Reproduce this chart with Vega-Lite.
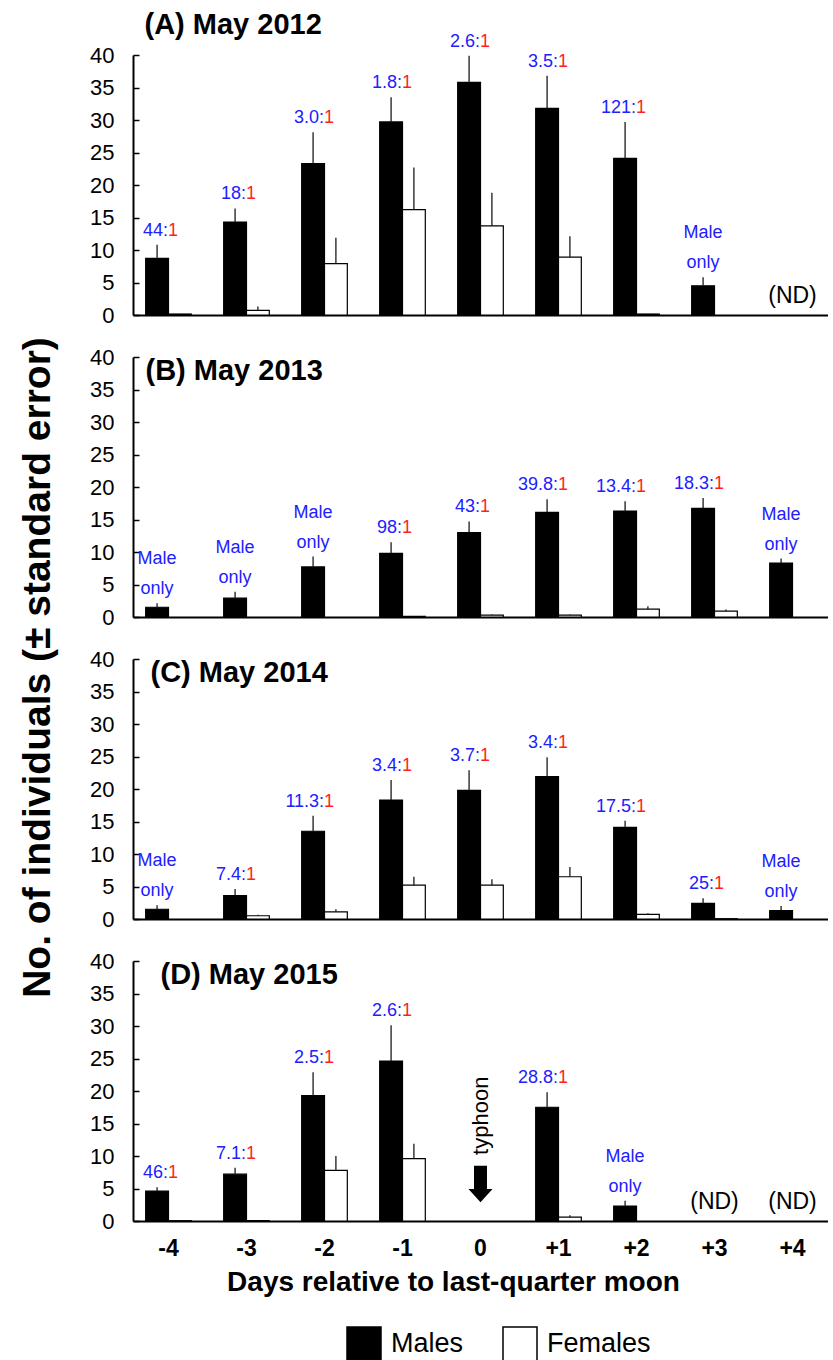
{
  "$schema": "https://vega.github.io/schema/vega-lite/v6.json",
  "bounds": "flush",
  "spacing": 42,
  "padding": {"left": 17, "top": 11, "right": 0, "bottom": 0},
  "datasets": {
    "bars": [
      {"panel": "A", "day": "-4", "sex": "Males", "v": 8.7, "hi": 10.8},
      {"panel": "A", "day": "-4", "sex": "Females", "v": 0.15, "hi": null},
      {"panel": "A", "day": "-3", "sex": "Males", "v": 14.3, "hi": 16.4},
      {"panel": "A", "day": "-3", "sex": "Females", "v": 0.7, "hi": 1.3},
      {"panel": "A", "day": "-2", "sex": "Males", "v": 23.3, "hi": 28.1},
      {"panel": "A", "day": "-2", "sex": "Females", "v": 7.9, "hi": 11.9},
      {"panel": "A", "day": "-1", "sex": "Males", "v": 29.7, "hi": 33.5},
      {"panel": "A", "day": "-1", "sex": "Females", "v": 16.2, "hi": 22.7},
      {"panel": "A", "day": "0", "sex": "Males", "v": 35.8, "hi": 39.9},
      {"panel": "A", "day": "0", "sex": "Females", "v": 13.7, "hi": 18.8},
      {"panel": "A", "day": "+1", "sex": "Males", "v": 31.8, "hi": 36.8},
      {"panel": "A", "day": "+1", "sex": "Females", "v": 8.9, "hi": 12.1},
      {"panel": "A", "day": "+2", "sex": "Males", "v": 24.1, "hi": 29.7},
      {"panel": "A", "day": "+2", "sex": "Females", "v": 0.15, "hi": null},
      {"panel": "A", "day": "+3", "sex": "Males", "v": 4.5, "hi": 5.8},
      {"panel": "B", "day": "-4", "sex": "Males", "v": 1.5, "hi": 2.1},
      {"panel": "B", "day": "-3", "sex": "Males", "v": 2.9, "hi": 3.9},
      {"panel": "B", "day": "-2", "sex": "Males", "v": 7.7, "hi": 9.3},
      {"panel": "B", "day": "-1", "sex": "Males", "v": 9.8, "hi": 11.5},
      {"panel": "B", "day": "-1", "sex": "Females", "v": 0.1, "hi": null},
      {"panel": "B", "day": "0", "sex": "Males", "v": 13.0, "hi": 14.7},
      {"panel": "B", "day": "0", "sex": "Females", "v": 0.3, "hi": 0.4},
      {"panel": "B", "day": "+1", "sex": "Males", "v": 16.1, "hi": 18.1},
      {"panel": "B", "day": "+1", "sex": "Females", "v": 0.3, "hi": 0.4},
      {"panel": "B", "day": "+2", "sex": "Males", "v": 16.3, "hi": 17.8},
      {"panel": "B", "day": "+2", "sex": "Females", "v": 1.2, "hi": 1.65},
      {"panel": "B", "day": "+3", "sex": "Males", "v": 16.7, "hi": 18.3},
      {"panel": "B", "day": "+3", "sex": "Females", "v": 0.9, "hi": 1.15},
      {"panel": "B", "day": "+4", "sex": "Males", "v": 8.3, "hi": 9.0},
      {"panel": "C", "day": "-4", "sex": "Males", "v": 1.5, "hi": 2.1},
      {"panel": "C", "day": "-3", "sex": "Males", "v": 3.6, "hi": 4.6},
      {"panel": "C", "day": "-3", "sex": "Females", "v": 0.5, "hi": 0.65},
      {"panel": "C", "day": "-2", "sex": "Males", "v": 13.5, "hi": 15.9},
      {"panel": "C", "day": "-2", "sex": "Females", "v": 1.1, "hi": 1.5},
      {"panel": "C", "day": "-1", "sex": "Males", "v": 18.3, "hi": 21.4},
      {"panel": "C", "day": "-1", "sex": "Females", "v": 5.2, "hi": 6.5},
      {"panel": "C", "day": "0", "sex": "Males", "v": 19.8, "hi": 22.9},
      {"panel": "C", "day": "0", "sex": "Females", "v": 5.2, "hi": 6.1},
      {"panel": "C", "day": "+1", "sex": "Males", "v": 21.9, "hi": 24.9},
      {"panel": "C", "day": "+1", "sex": "Females", "v": 6.5, "hi": 8.0},
      {"panel": "C", "day": "+2", "sex": "Males", "v": 14.1, "hi": 15.1},
      {"panel": "C", "day": "+2", "sex": "Females", "v": 0.7, "hi": 0.9},
      {"panel": "C", "day": "+3", "sex": "Males", "v": 2.4, "hi": 3.2},
      {"panel": "C", "day": "+3", "sex": "Females", "v": 0.05, "hi": null},
      {"panel": "C", "day": "+4", "sex": "Males", "v": 1.3, "hi": 2.0},
      {"panel": "D", "day": "-4", "sex": "Males", "v": 4.6, "hi": 5.2},
      {"panel": "D", "day": "-4", "sex": "Females", "v": 0.05, "hi": null},
      {"panel": "D", "day": "-3", "sex": "Males", "v": 7.2, "hi": 8.2},
      {"panel": "D", "day": "-3", "sex": "Females", "v": 0.05, "hi": null},
      {"panel": "D", "day": "-2", "sex": "Males", "v": 19.3, "hi": 22.9},
      {"panel": "D", "day": "-2", "sex": "Females", "v": 7.8, "hi": 10.0},
      {"panel": "D", "day": "-1", "sex": "Males", "v": 24.6, "hi": 30.1},
      {"panel": "D", "day": "-1", "sex": "Females", "v": 9.6, "hi": 11.9},
      {"panel": "D", "day": "+1", "sex": "Males", "v": 17.5, "hi": 19.8},
      {"panel": "D", "day": "+1", "sex": "Females", "v": 0.6, "hi": 0.9},
      {"panel": "D", "day": "+2", "sex": "Males", "v": 2.3, "hi": 3.1}
    ],
    "ratios": [
      {"panel": "A", "day": "-4", "sex": "Males", "m": "44:", "f": "1", "hi": 10.8},
      {"panel": "A", "day": "-3", "sex": "Males", "m": "18:", "f": "1", "hi": 16.4},
      {"panel": "A", "day": "-2", "sex": "Males", "m": "3.0:", "f": "1", "hi": 28.1},
      {"panel": "A", "day": "-1", "sex": "Males", "m": "1.8:", "f": "1", "hi": 33.5},
      {"panel": "A", "day": "0", "sex": "Males", "m": "2.6:", "f": "1", "hi": 39.9},
      {"panel": "A", "day": "+1", "sex": "Males", "m": "3.5:", "f": "1", "hi": 36.8},
      {"panel": "A", "day": "+2", "sex": "Males", "m": "121:", "f": "1", "hi": 29.7},
      {"panel": "B", "day": "-1", "sex": "Males", "m": "98:", "f": "1", "hi": 11.5},
      {"panel": "B", "day": "0", "sex": "Males", "m": "43:", "f": "1", "hi": 14.7},
      {"panel": "B", "day": "+1", "sex": "Males", "m": "39.8:", "f": "1", "hi": 18.1},
      {"panel": "B", "day": "+2", "sex": "Males", "m": "13.4:", "f": "1", "hi": 17.8},
      {"panel": "B", "day": "+3", "sex": "Males", "m": "18.3:", "f": "1", "hi": 18.3},
      {"panel": "C", "day": "-3", "sex": "Males", "m": "7.4:", "f": "1", "hi": 4.6},
      {"panel": "C", "day": "-2", "sex": "Males", "m": "11.3:", "f": "1", "hi": 15.9},
      {"panel": "C", "day": "-1", "sex": "Males", "m": "3.4:", "f": "1", "hi": 21.4},
      {"panel": "C", "day": "0", "sex": "Males", "m": "3.7:", "f": "1", "hi": 22.9},
      {"panel": "C", "day": "+1", "sex": "Males", "m": "3.4:", "f": "1", "hi": 24.9},
      {"panel": "C", "day": "+2", "sex": "Males", "m": "17.5:", "f": "1", "hi": 15.1},
      {"panel": "C", "day": "+3", "sex": "Males", "m": "25:", "f": "1", "hi": 3.2},
      {"panel": "D", "day": "-4", "sex": "Males", "m": "46:", "f": "1", "hi": 5.2},
      {"panel": "D", "day": "-3", "sex": "Males", "m": "7.1:", "f": "1", "hi": 8.2},
      {"panel": "D", "day": "-2", "sex": "Males", "m": "2.5:", "f": "1", "hi": 22.9},
      {"panel": "D", "day": "-1", "sex": "Males", "m": "2.6:", "f": "1", "hi": 30.1},
      {"panel": "D", "day": "+1", "sex": "Males", "m": "28.8:", "f": "1", "hi": 19.8}
    ],
    "maleonly": [
      {"panel": "A", "day": "+3", "sex": "Males", "t": "Male\nonly", "hi": 5.8},
      {"panel": "B", "day": "-4", "sex": "Males", "t": "Male\nonly", "hi": 2.1},
      {"panel": "B", "day": "-3", "sex": "Males", "t": "Male\nonly", "hi": 3.9},
      {"panel": "B", "day": "-2", "sex": "Males", "t": "Male\nonly", "hi": 9.3},
      {"panel": "B", "day": "+4", "sex": "Males", "t": "Male\nonly", "hi": 9.0},
      {"panel": "C", "day": "-4", "sex": "Males", "t": "Male\nonly", "hi": 2.1},
      {"panel": "C", "day": "+4", "sex": "Males", "t": "Male\nonly", "hi": 2.0},
      {"panel": "D", "day": "+2", "sex": "Males", "t": "Male\nonly", "hi": 3.1}
    ],
    "nd": [
      {"panel": "A", "day": "+4", "t": "(ND)"},
      {"panel": "D", "day": "+3", "t": "(ND)"},
      {"panel": "D", "day": "+4", "t": "(ND)"}
    ]
  },
  "vconcat": [
    {
      "width": 695, "height": 260,
      "layer": [
        {"data": {"name": "bars"}, "transform": [{"filter": "datum.panel == 'A'"}],
         "mark": {"type": "bar", "stroke": "black", "strokeWidth": 1.2},
         "encoding": {
           "x": {"field": "day", "type": "nominal", "title": null, "sort": ["-4","-3","-2","-1","0","+1","+2","+3","+4"], "scale": {"domain": ["-4","-3","-2","-1","0","+1","+2","+3","+4"], "paddingInner": 0.415, "paddingOuter": 0.1625}, "axis": {"labels": false, "ticks": false, "title": null, "domainWidth": 2}},
           "xOffset": {"field": "sex", "type": "nominal", "sort": ["Males","Females"], "scale": {"domain": ["Males","Females"], "paddingInner": 0, "paddingOuter": 0}},
           "y": {"field": "v", "type": "quantitative", "title": null, "scale": {"domain": [0, 40], "nice": false}, "axis": {"values": [0,5,10,15,20,25,30,35,40], "tickCount": 9, "labelOverlap": false, "labelFlush": false, "labelBound": false, "labelSeparation": 0, "title": null}},
           "color": {"field": "sex", "type": "nominal", "scale": {"domain": ["Males","Females"], "range": ["black","white"]}, "legend": {"orient": "none", "legendX": 213, "legendY": 1271, "direction": "horizontal", "title": null, "symbolType": "square", "symbolSize": 1156, "symbolStrokeColor": "black", "symbolStrokeWidth": 1.5, "labelFontSize": 27, "labelFont": "Liberation Sans", "labelColor": "black", "columnPadding": 36, "labelOffset": 9}}
         }},
        {"data": {"name": "bars"}, "transform": [{"filter": "datum.panel == 'A' && datum.hi != null"}],
         "mark": {"type": "rule", "color": "#1a1a1a", "strokeWidth": 1.3},
         "encoding": {
           "x": {"field": "day", "type": "nominal", "title": null},
           "xOffset": {"field": "sex", "type": "nominal"},
           "y": {"field": "v", "type": "quantitative", "title": null},
           "y2": {"field": "hi"}
         }},
        {"data": {"name": "ratios"}, "transform": [{"filter": "datum.panel == 'A'"}],
         "mark": {"type": "text", "align": "right", "baseline": "bottom", "dx": 11, "dy": -5, "fontSize": 18, "font": "Liberation Sans", "color": "#2020ff"},
         "encoding": {"x": {"field": "day", "type": "nominal", "title": null}, "xOffset": {"field": "sex", "type": "nominal"}, "y": {"field": "hi", "type": "quantitative", "title": null}, "text": {"field": "m"}}},
        {"data": {"name": "ratios"}, "transform": [{"filter": "datum.panel == 'A'"}],
         "mark": {"type": "text", "align": "left", "baseline": "bottom", "dx": 11, "dy": -5, "fontSize": 18, "font": "Liberation Sans", "color": "#ff1f1f"},
         "encoding": {"x": {"field": "day", "type": "nominal", "title": null}, "xOffset": {"field": "sex", "type": "nominal"}, "y": {"field": "hi", "type": "quantitative", "title": null}, "text": {"field": "f"}}},
        {"data": {"name": "maleonly"}, "transform": [{"filter": "datum.panel == 'A'"}],
         "mark": {"type": "text", "baseline": "bottom", "dy": -35, "fontSize": 18, "lineHeight": 30, "lineBreak": "\n", "font": "Liberation Sans", "color": "#2020ff"},
         "encoding": {"x": {"field": "day", "type": "nominal", "title": null}, "xOffset": {"field": "sex", "type": "nominal"}, "y": {"field": "hi", "type": "quantitative", "title": null}, "text": {"field": "t"}}},
        {"data": {"name": "nd"}, "transform": [{"filter": "datum.panel == 'A'"}],
         "mark": {"type": "text", "baseline": "middle", "fontSize": 23, "font": "Liberation Sans", "color": "black"},
         "encoding": {"x": {"field": "day", "type": "nominal", "title": null}, "y": {"datum": 3, "type": "quantitative", "title": null}, "text": {"field": "t"}}},
        {"data": {"values": [{"t": "(A) May 2012"}]},
         "mark": {"type": "text", "align": "left", "baseline": "middle", "dx": -24, "fontSize": 29, "fontWeight": "bold", "font": "Liberation Sans", "color": "black"},
         "encoding": {"x": {"datum": "-4", "type": "nominal", "title": null}, "y": {"datum": 44.6, "type": "quantitative", "title": null}, "text": {"field": "t"}}}
      ]
    },
    {
      "width": 695, "height": 260,
      "layer": [
        {"data": {"name": "bars"}, "transform": [{"filter": "datum.panel == 'B'"}],
         "mark": {"type": "bar", "stroke": "black", "strokeWidth": 1.2},
         "encoding": {
           "x": {"field": "day", "type": "nominal", "title": null, "sort": ["-4","-3","-2","-1","0","+1","+2","+3","+4"], "scale": {"domain": ["-4","-3","-2","-1","0","+1","+2","+3","+4"], "paddingInner": 0.415, "paddingOuter": 0.1625}, "axis": {"labels": false, "ticks": false, "title": null, "domainWidth": 2}},
           "xOffset": {"field": "sex", "type": "nominal", "sort": ["Males","Females"], "scale": {"domain": ["Males","Females"], "paddingInner": 0, "paddingOuter": 0}},
           "y": {"field": "v", "type": "quantitative", "title": "No. of individuals (± standard error)", "scale": {"domain": [0, 40], "nice": false}, "axis": {"values": [0,5,10,15,20,25,30,35,40], "tickCount": 9, "labelOverlap": false, "labelFlush": false, "labelBound": false, "labelSeparation": 0, "title": "No. of individuals (± standard error)", "titleFontSize": 39, "titleFontWeight": "bold", "titleFont": "Liberation Sans", "titleColor": "black", "titleAngle": 270, "titleAlign": "center", "titleBaseline": "middle", "titleX": -96, "titleY": 310}},
           "color": {"field": "sex", "type": "nominal", "scale": {"domain": ["Males","Females"], "range": ["black","white"]}, "legend": {"orient": "none", "legendX": 213, "legendY": 1271, "direction": "horizontal", "title": null, "symbolType": "square", "symbolSize": 1156, "symbolStrokeColor": "black", "symbolStrokeWidth": 1.5, "labelFontSize": 27, "labelFont": "Liberation Sans", "labelColor": "black", "columnPadding": 36, "labelOffset": 9}}
         }},
        {"data": {"name": "bars"}, "transform": [{"filter": "datum.panel == 'B' && datum.hi != null"}],
         "mark": {"type": "rule", "color": "#1a1a1a", "strokeWidth": 1.3},
         "encoding": {
           "x": {"field": "day", "type": "nominal", "title": null},
           "xOffset": {"field": "sex", "type": "nominal"},
           "y": {"field": "v", "type": "quantitative", "title": "No. of individuals (± standard error)"},
           "y2": {"field": "hi"}
         }},
        {"data": {"name": "ratios"}, "transform": [{"filter": "datum.panel == 'B'"}],
         "mark": {"type": "text", "align": "right", "baseline": "bottom", "dx": 11, "dy": -5, "fontSize": 18, "font": "Liberation Sans", "color": "#2020ff"},
         "encoding": {"x": {"field": "day", "type": "nominal", "title": null}, "xOffset": {"field": "sex", "type": "nominal"}, "y": {"field": "hi", "type": "quantitative", "title": "No. of individuals (± standard error)"}, "text": {"field": "m"}}},
        {"data": {"name": "ratios"}, "transform": [{"filter": "datum.panel == 'B'"}],
         "mark": {"type": "text", "align": "left", "baseline": "bottom", "dx": 11, "dy": -5, "fontSize": 18, "font": "Liberation Sans", "color": "#ff1f1f"},
         "encoding": {"x": {"field": "day", "type": "nominal", "title": null}, "xOffset": {"field": "sex", "type": "nominal"}, "y": {"field": "hi", "type": "quantitative", "title": "No. of individuals (± standard error)"}, "text": {"field": "f"}}},
        {"data": {"name": "maleonly"}, "transform": [{"filter": "datum.panel == 'B'"}],
         "mark": {"type": "text", "baseline": "bottom", "dy": -35, "fontSize": 18, "lineHeight": 30, "lineBreak": "\n", "font": "Liberation Sans", "color": "#2020ff"},
         "encoding": {"x": {"field": "day", "type": "nominal", "title": null}, "xOffset": {"field": "sex", "type": "nominal"}, "y": {"field": "hi", "type": "quantitative", "title": "No. of individuals (± standard error)"}, "text": {"field": "t"}}},
        {"data": {"values": [{"t": "(B) May 2013"}]},
         "mark": {"type": "text", "align": "left", "baseline": "middle", "dx": -23, "fontSize": 29, "fontWeight": "bold", "font": "Liberation Sans", "color": "black"},
         "encoding": {"x": {"datum": "-4", "type": "nominal", "title": null}, "y": {"datum": 37.8, "type": "quantitative", "title": "No. of individuals (± standard error)"}, "text": {"field": "t"}}}
      ]
    },
    {
      "width": 695, "height": 260,
      "layer": [
        {"data": {"name": "bars"}, "transform": [{"filter": "datum.panel == 'C'"}],
         "mark": {"type": "bar", "stroke": "black", "strokeWidth": 1.2},
         "encoding": {
           "x": {"field": "day", "type": "nominal", "title": null, "sort": ["-4","-3","-2","-1","0","+1","+2","+3","+4"], "scale": {"domain": ["-4","-3","-2","-1","0","+1","+2","+3","+4"], "paddingInner": 0.415, "paddingOuter": 0.1625}, "axis": {"labels": false, "ticks": false, "title": null, "domainWidth": 2}},
           "xOffset": {"field": "sex", "type": "nominal", "sort": ["Males","Females"], "scale": {"domain": ["Males","Females"], "paddingInner": 0, "paddingOuter": 0}},
           "y": {"field": "v", "type": "quantitative", "title": null, "scale": {"domain": [0, 40], "nice": false}, "axis": {"values": [0,5,10,15,20,25,30,35,40], "tickCount": 9, "labelOverlap": false, "labelFlush": false, "labelBound": false, "labelSeparation": 0, "title": null}},
           "color": {"field": "sex", "type": "nominal", "scale": {"domain": ["Males","Females"], "range": ["black","white"]}, "legend": {"orient": "none", "legendX": 213, "legendY": 1271, "direction": "horizontal", "title": null, "symbolType": "square", "symbolSize": 1156, "symbolStrokeColor": "black", "symbolStrokeWidth": 1.5, "labelFontSize": 27, "labelFont": "Liberation Sans", "labelColor": "black", "columnPadding": 36, "labelOffset": 9}}
         }},
        {"data": {"name": "bars"}, "transform": [{"filter": "datum.panel == 'C' && datum.hi != null"}],
         "mark": {"type": "rule", "color": "#1a1a1a", "strokeWidth": 1.3},
         "encoding": {
           "x": {"field": "day", "type": "nominal", "title": null},
           "xOffset": {"field": "sex", "type": "nominal"},
           "y": {"field": "v", "type": "quantitative", "title": null},
           "y2": {"field": "hi"}
         }},
        {"data": {"name": "ratios"}, "transform": [{"filter": "datum.panel == 'C'"}],
         "mark": {"type": "text", "align": "right", "baseline": "bottom", "dx": 11, "dy": -5, "fontSize": 18, "font": "Liberation Sans", "color": "#2020ff"},
         "encoding": {"x": {"field": "day", "type": "nominal", "title": null}, "xOffset": {"field": "sex", "type": "nominal"}, "y": {"field": "hi", "type": "quantitative", "title": null}, "text": {"field": "m"}}},
        {"data": {"name": "ratios"}, "transform": [{"filter": "datum.panel == 'C'"}],
         "mark": {"type": "text", "align": "left", "baseline": "bottom", "dx": 11, "dy": -5, "fontSize": 18, "font": "Liberation Sans", "color": "#ff1f1f"},
         "encoding": {"x": {"field": "day", "type": "nominal", "title": null}, "xOffset": {"field": "sex", "type": "nominal"}, "y": {"field": "hi", "type": "quantitative", "title": null}, "text": {"field": "f"}}},
        {"data": {"name": "maleonly"}, "transform": [{"filter": "datum.panel == 'C'"}],
         "mark": {"type": "text", "baseline": "bottom", "dy": -35, "fontSize": 18, "lineHeight": 30, "lineBreak": "\n", "font": "Liberation Sans", "color": "#2020ff"},
         "encoding": {"x": {"field": "day", "type": "nominal", "title": null}, "xOffset": {"field": "sex", "type": "nominal"}, "y": {"field": "hi", "type": "quantitative", "title": null}, "text": {"field": "t"}}},
        {"data": {"values": [{"t": "(C) May 2014"}]},
         "mark": {"type": "text", "align": "left", "baseline": "middle", "dx": -18, "fontSize": 29, "fontWeight": "bold", "font": "Liberation Sans", "color": "black"},
         "encoding": {"x": {"datum": "-4", "type": "nominal", "title": null}, "y": {"datum": 37.8, "type": "quantitative", "title": null}, "text": {"field": "t"}}}
      ]
    },
    {
      "width": 695, "height": 260,
      "layer": [
        {"data": {"name": "bars"}, "transform": [{"filter": "datum.panel == 'D'"}],
         "mark": {"type": "bar", "stroke": "black", "strokeWidth": 1.2},
         "encoding": {
           "x": {"field": "day", "type": "nominal", "title": "Days relative to last-quarter moon", "sort": ["-4","-3","-2","-1","0","+1","+2","+3","+4"], "scale": {"domain": ["-4","-3","-2","-1","0","+1","+2","+3","+4"], "paddingInner": 0.415, "paddingOuter": 0.1625}, "axis": {"ticks": false, "domainWidth": 2, "labelAngle": 0, "labelFontSize": 23, "labelFontWeight": "bold", "labelFont": "Liberation Sans", "labelColor": "black", "labelPadding": 16, "labelOverlap": false, "title": "Days relative to last-quarter moon", "titleFontSize": 28, "titleFontWeight": "bold", "titleFont": "Liberation Sans", "titleColor": "black", "titlePadding": 8, "titleX": 320, "titleAlign": "center"}},
           "xOffset": {"field": "sex", "type": "nominal", "sort": ["Males","Females"], "scale": {"domain": ["Males","Females"], "paddingInner": 0, "paddingOuter": 0}},
           "y": {"field": "v", "type": "quantitative", "title": null, "scale": {"domain": [0, 40], "nice": false}, "axis": {"values": [0,5,10,15,20,25,30,35,40], "tickCount": 9, "labelOverlap": false, "labelFlush": false, "labelBound": false, "labelSeparation": 0, "title": null}},
           "color": {"field": "sex", "type": "nominal", "scale": {"domain": ["Males","Females"], "range": ["black","white"]}, "legend": {"orient": "none", "legendX": 213, "legendY": 1271, "direction": "horizontal", "title": null, "symbolType": "square", "symbolSize": 1156, "symbolStrokeColor": "black", "symbolStrokeWidth": 1.5, "labelFontSize": 27, "labelFont": "Liberation Sans", "labelColor": "black", "columnPadding": 36, "labelOffset": 9}}
         }},
        {"data": {"name": "bars"}, "transform": [{"filter": "datum.panel == 'D' && datum.hi != null"}],
         "mark": {"type": "rule", "color": "#1a1a1a", "strokeWidth": 1.3},
         "encoding": {
           "x": {"field": "day", "type": "nominal", "title": "Days relative to last-quarter moon"},
           "xOffset": {"field": "sex", "type": "nominal"},
           "y": {"field": "v", "type": "quantitative", "title": null},
           "y2": {"field": "hi"}
         }},
        {"data": {"name": "ratios"}, "transform": [{"filter": "datum.panel == 'D'"}],
         "mark": {"type": "text", "align": "right", "baseline": "bottom", "dx": 11, "dy": -5, "fontSize": 18, "font": "Liberation Sans", "color": "#2020ff"},
         "encoding": {"x": {"field": "day", "type": "nominal", "title": "Days relative to last-quarter moon"}, "xOffset": {"field": "sex", "type": "nominal"}, "y": {"field": "hi", "type": "quantitative", "title": null}, "text": {"field": "m"}}},
        {"data": {"name": "ratios"}, "transform": [{"filter": "datum.panel == 'D'"}],
         "mark": {"type": "text", "align": "left", "baseline": "bottom", "dx": 11, "dy": -5, "fontSize": 18, "font": "Liberation Sans", "color": "#ff1f1f"},
         "encoding": {"x": {"field": "day", "type": "nominal", "title": "Days relative to last-quarter moon"}, "xOffset": {"field": "sex", "type": "nominal"}, "y": {"field": "hi", "type": "quantitative", "title": null}, "text": {"field": "f"}}},
        {"data": {"name": "maleonly"}, "transform": [{"filter": "datum.panel == 'D'"}],
         "mark": {"type": "text", "baseline": "bottom", "dy": -35, "fontSize": 18, "lineHeight": 30, "lineBreak": "\n", "font": "Liberation Sans", "color": "#2020ff"},
         "encoding": {"x": {"field": "day", "type": "nominal", "title": "Days relative to last-quarter moon"}, "xOffset": {"field": "sex", "type": "nominal"}, "y": {"field": "hi", "type": "quantitative", "title": null}, "text": {"field": "t"}}},
        {"data": {"name": "nd"}, "transform": [{"filter": "datum.panel == 'D'"}],
         "mark": {"type": "text", "baseline": "middle", "fontSize": 23, "font": "Liberation Sans", "color": "black"},
         "encoding": {"x": {"field": "day", "type": "nominal", "title": "Days relative to last-quarter moon"}, "y": {"datum": 3, "type": "quantitative", "title": null}, "text": {"field": "t"}}},
        {"data": {"values": [{"t": "typhoon"}]},
         "mark": {"type": "text", "angle": 270, "align": "center", "baseline": "middle", "fontSize": 22, "font": "Liberation Sans", "color": "black", "dx": -2},
         "encoding": {"x": {"datum": "0", "type": "nominal", "title": "Days relative to last-quarter moon"}, "y": {"datum": 16.5, "type": "quantitative", "title": null}, "text": {"field": "t"}}},
        {"data": {"values": [{"t": "arrow"}]},
         "mark": {"type": "rule", "color": "black", "strokeWidth": 13, "strokeCap": "butt"},
         "encoding": {"x": {"datum": "0", "type": "nominal", "title": "Days relative to last-quarter moon"}, "y": {"datum": 8.5, "type": "quantitative", "title": null}, "y2": {"datum": 4.5}}},
        {"data": {"values": [{"t": "arrowhead"}]},
         "mark": {"type": "point", "shape": "M-1,-0.55L1,-0.55L0,0.55Z", "filled": true, "color": "black", "opacity": 1, "size": 576},
         "encoding": {"x": {"datum": "0", "type": "nominal", "title": "Days relative to last-quarter moon"}, "y": {"datum": 3.9, "type": "quantitative", "title": null}}},
        {"data": {"values": [{"t": "(D) May 2015"}]},
         "mark": {"type": "text", "align": "left", "baseline": "middle", "dx": -8, "fontSize": 29, "fontWeight": "bold", "font": "Liberation Sans", "color": "black"},
         "encoding": {"x": {"datum": "-4", "type": "nominal", "title": "Days relative to last-quarter moon"}, "y": {"datum": 37.8, "type": "quantitative", "title": null}, "text": {"field": "t"}}}
      ]
    }
  ],
  "resolve": {"scale": {"color": "shared"}, "legend": {"color": "shared"}},
  "config": {
    "view": {"stroke": null},
    "font": "Liberation Sans",
    "axis": {"grid": false, "domainColor": "black", "tickColor": "black", "labelColor": "black", "labelFont": "Liberation Sans"},
    "axisY": {"domainWidth": 2, "tickSize": -6, "tickWidth": 1.5, "labelFontSize": 22, "labelPadding": 25, "labelOverlap": false},
    "axisX": {"domainWidth": 2}
  }
}
